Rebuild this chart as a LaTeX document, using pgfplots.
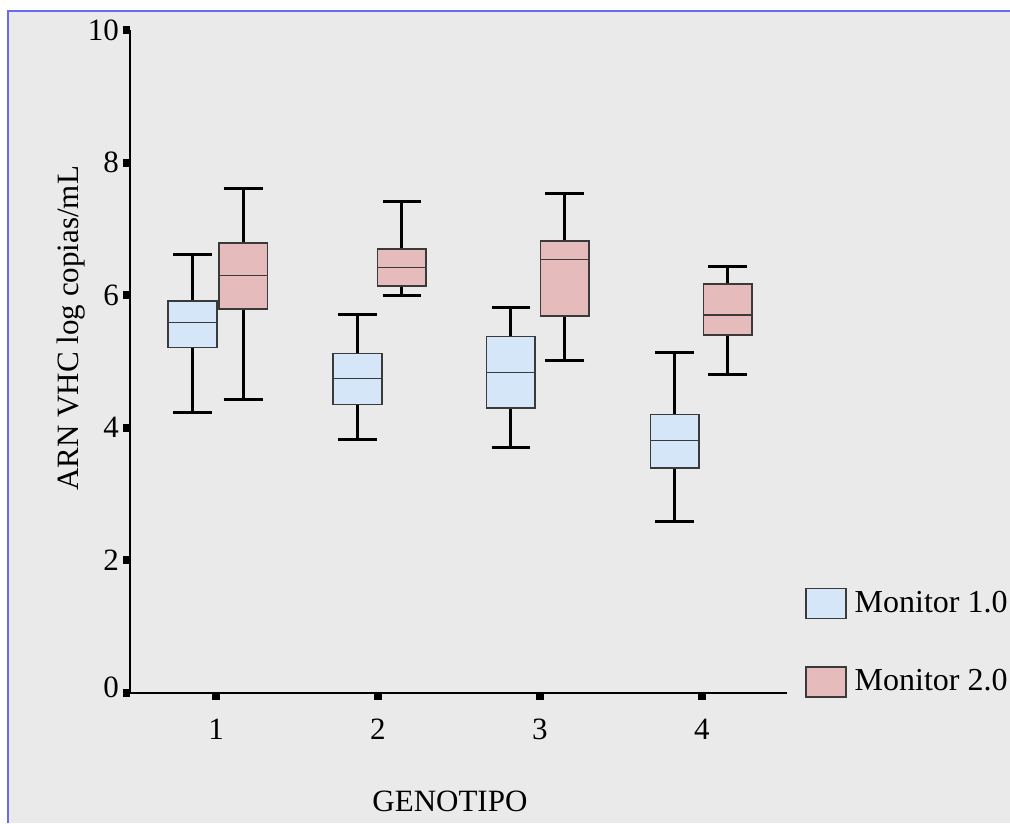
\documentclass[border=0pt]{standalone}
\usepackage{fontspec}
\setmainfont{Liberation Serif}
\usepackage{pgfplots}
\pgfplotsset{compat=1.18}
\usepgfplotslibrary{statistics}
\definecolor{bgg}{HTML}{EAEAEA}
\definecolor{frameblue}{HTML}{6A6AF0}
\definecolor{boxblue}{HTML}{D5E6F9}
\definecolor{boxred}{HTML}{E6BBBB}
\definecolor{edge}{HTML}{3A3A3A}
\newcommand{\lbl}{\fontsize{15.5}{18}\selectfont}
\begin{document}
\begin{tikzpicture}
\useasboundingbox (-65pt,-65pt) rectangle (440pt,346.5pt);
\fill[white] (-65pt,-65pt) rectangle (440pt,346.5pt);
\fill[bgg] (-61pt,-65pt) rectangle (440pt,341pt);
\draw[frameblue, line width=1pt] (-61pt,-65pt) -- (-61pt,341pt) -- (440pt,341pt);
\begin{axis}[
  scale only axis, width=328.5pt, height=331.5pt,
  xmin=0.469, xmax=4.525, ymin=0, ymax=10,
  axis x line=bottom, axis y line=left,
  axis line style={-, line width=1pt, black},
  xtick={1,2,3,4}, xticklabels={1,2,3,4},
  ytick={0,2,4,6,8,10}, yticklabels={\raisebox{5.5pt}{0},2,4,6,8,10},
  tick align=outside, major tick length=3.5pt,
  tick style={line width=4pt, black},
  ticklabel style={font=\lbl},
  xticklabel style={yshift=-6pt},
  yticklabel style={xshift=1.5pt},
  xlabel={GENOTIPO}, ylabel={ARN VHC log copias/mL},
  label style={font=\lbl},
  xlabel style={at={(axis description cs:0.487,-0.164)}, anchor=center},
  ylabel style={at={(axis description cs:-0.0898,0.55)}, anchor=center},
  legend style={at={(axis description cs:1.027,0.16)}, anchor=north west,
    draw=none, fill=none, font=\fontsize{16}{18}\selectfont, row sep=23pt, inner sep=0pt,
    nodes={inner xsep=4pt}},
  legend cell align=left,
  boxplot/draw direction=y,
  boxplot/every whisker/.style={black, line width=1.5pt},
  boxplot/every box/.style={draw=edge, line width=0.8pt},
  boxplot/every median/.style={draw=edge, line width=0.6pt},
]
\addlegendimage{legend image code/.code={\draw[fill=boxblue,draw=edge,line width=0.8pt] (0pt,-7.5pt) rectangle (20pt,7.5pt);}}
\addlegendimage{legend image code/.code={\draw[fill=boxred,draw=edge,line width=0.8pt] (0pt,-7.5pt) rectangle (20pt,7.5pt);}}
\legend{Monitor 1.0, Monitor 2.0}
% Monitor 1.0 (blue)
\addplot[forget plot, fill=boxblue, boxplot prepared={draw position=0.855, lower whisker=4.23, lower quartile=5.21, median=5.59, upper quartile=5.91, upper whisker=6.62, box extend=0.30, whisker extend=0.24}] coordinates {};
\addplot[forget plot, fill=boxblue, boxplot prepared={draw position=1.873, lower whisker=3.83, lower quartile=4.35, median=4.74, upper quartile=5.12, upper whisker=5.71, box extend=0.30, whisker extend=0.24}] coordinates {};
\addplot[forget plot, fill=boxblue, boxplot prepared={draw position=2.821, lower whisker=3.70, lower quartile=4.30, median=4.84, upper quartile=5.38, upper whisker=5.81, box extend=0.30, whisker extend=0.24}] coordinates {};
\addplot[forget plot, fill=boxblue, boxplot prepared={draw position=3.833, lower whisker=2.59, lower quartile=3.39, median=3.81, upper quartile=4.20, upper whisker=5.13, box extend=0.30, whisker extend=0.24}] coordinates {};
% Monitor 2.0 (red)
\addplot[forget plot, fill=boxred, boxplot prepared={draw position=1.167, lower whisker=4.42, lower quartile=5.79, median=6.30, upper quartile=6.79, upper whisker=7.61, box extend=0.30, whisker extend=0.24}] coordinates {};
\addplot[forget plot, fill=boxred, boxplot prepared={draw position=2.148, lower whisker=5.99, lower quartile=6.14, median=6.42, upper quartile=6.70, upper whisker=7.42, box extend=0.30, whisker extend=0.24}] coordinates {};
\addplot[forget plot, fill=boxred, boxplot prepared={draw position=3.154, lower whisker=5.02, lower quartile=5.69, median=6.54, upper quartile=6.82, upper whisker=7.53, box extend=0.30, whisker extend=0.24}] coordinates {};
\addplot[forget plot, fill=boxred, boxplot prepared={draw position=4.160, lower whisker=4.80, lower quartile=5.40, median=5.70, upper quartile=6.17, upper whisker=6.43, box extend=0.30, whisker extend=0.24}] coordinates {};
\end{axis}
\end{tikzpicture}
\end{document}
